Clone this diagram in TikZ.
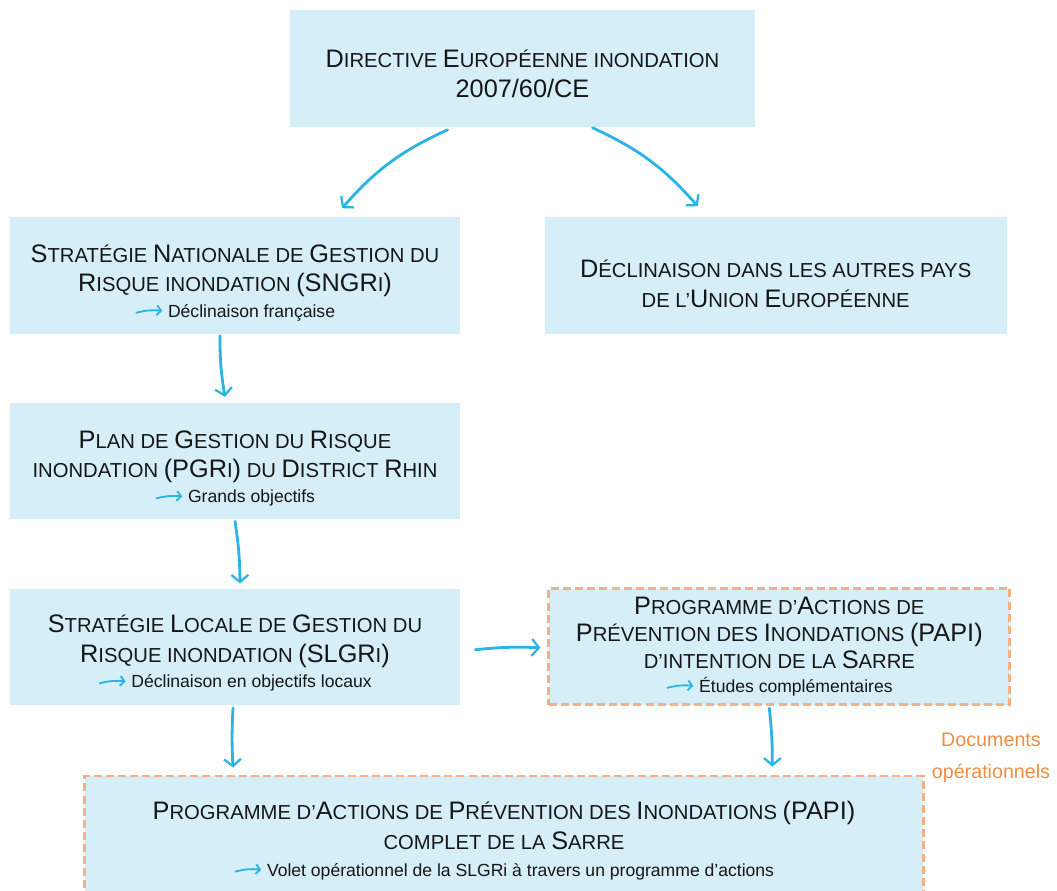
\documentclass[tikz,border=0pt]{standalone}
\usepackage{fontspec}
\setmainfont{Liberation Sans}
\usepackage{xcolor}
\usepackage{tikz}
\usetikzlibrary{arrows.meta,positioning,calc}
\definecolor{encre}{HTML}{161616}
\definecolor{bleuPale}{HTML}{D6EEF8}
\definecolor{bleuTrait}{HTML}{2BB3E6}
\definecolor{orangeTrait}{HTML}{F4B083}
\definecolor{orangeTexte}{HTML}{F28C3F}

% petites capitales simulées : les majuscules en plus grand
\newcommand\maj[1]{{\fontsize{18}{21}\selectfont #1}}
\newcommand\haut[1]{\rule{0pt}{#1}}
\newcommand\petitefleche{\tikz[x=1cm,y=1cm,baseline=-0.6ex]
  \draw[bleuTrait,line width=1.3pt,-{Straight Barb[length=3pt,width=7pt]}]
  (0,-0.03) to[bend left=10] (0.66,0.02);}
\newcommand\soustitre[1]{{\fontsize{12.5}{14}\selectfont\petitefleche\ #1}}

\begin{document}
\begin{tikzpicture}[x=0.025cm,y=0.025cm,
    boite/.style={fill=bleuPale,minimum height=2.9cm,inner sep=0pt,
                  align=center,font=\fontsize{14.4}{21}\selectfont\color{encre}},
    pointille/.style={draw=orangeTrait,line width=2pt,
                      dash pattern=on 5.7pt off 2.9pt},
    fleche/.style={draw=bleuTrait,line width=2pt,line cap=round,
                   -{Straight Barb[length=5pt,width=12pt,line width=1.6pt]}}]
  \useasboundingbox (0,0) rectangle (1057,-891);

  \node[boite,minimum width=11.625cm] (dir) at (522.5,-68.5)
    {\haut{20pt}\maj{D}IRECTIVE \maj{E}UROPÉENNE INONDATION\\ \maj{2007/60/CE}};
  \node[boite,minimum width=11.25cm] (sngri) at (235,-275.5)
    {\haut{23pt}\maj{S}TRATÉGIE \maj{N}ATIONALE DE \maj{G}ESTION DU\\
     \maj{R}ISQUE INONDATION \maj{(SNGR}I\maj{)}\\[-3pt]
     \soustitre{Déclinaison française}};
  \node[boite,minimum width=11.55cm,right=2.1cm of sngri] (autres)
    {\haut{24pt}\maj{D}ÉCLINAISON DANS LES AUTRES PAYS\\
     DE L’\maj{U}NION \maj{E}UROPÉENNE};
  \node[boite,minimum width=11.25cm,below=1.725cm of sngri] (pgri)
    {\haut{23pt}\maj{P}LAN DE \maj{G}ESTION DU \maj{R}ISQUE\\
     INONDATION \maj{(PGR}I\maj{)} DU \maj{D}ISTRICT \maj{R}HIN\\[-3pt]
     \soustitre{Grands objectifs}};
  \node[boite,minimum width=11.25cm,below=1.725cm of pgri] (slgri)
    {\haut{22pt}\maj{S}TRATÉGIE \maj{L}OCALE DE \maj{G}ESTION DU\\
     \maj{R}ISQUE INONDATION \maj{(SLGR}I\maj{)}\\[-3pt]
     \soustitre{Déclinaison en objectifs locaux}};
  \node[boite,pointille,minimum width=11.525cm,right=2.175cm of slgri,
        font=\fontsize{14.4}{19}\selectfont\color{encre}] (intention)
    {\maj{P}ROGRAMME D’\maj{A}CTIONS DE\\
     \maj{P}RÉVENTION DES \maj{I}NONDATIONS \maj{(PAPI)}\\
     D’INTENTION DE LA \maj{S}ARRE\\[-2pt]
     \soustitre{Études complémentaires}};
  \node[boite,pointille,minimum width=20.95cm,minimum height=2.95cm] (complet)
    at (504,-835)
    {\haut{21pt}\maj{P}ROGRAMME D’\maj{A}CTIONS DE \maj{P}RÉVENTION DES
     \maj{I}NONDATIONS \maj{(PAPI)}\\
     COMPLET DE LA \maj{S}ARRE\\[-2pt]
     \soustitre{Volet opérationnel de la SLGRi à travers un programme d’actions}};

  \node[font=\fontsize{14}{22.8}\selectfont\color{orangeTexte},align=center]
    (docs) at (991,-758) {Documents\\opérationnels};

  \draw[fleche] ($(dir.south)+(-75,-3)$) to[bend right=12]
    ($(sngri.north)+(107,9)$);
  \draw[fleche] ($(dir.south)+(70,-1)$) to[bend left=12]
    ($(autres.north)+(-78,11)$);
  \draw[fleche] ($(sngri.south)+(-15,-2)$) to[bend right=5]
    ($(pgri.north)+(-10,6)$);
  \draw[fleche] ($(pgri.south)+(0,-2)$) to[bend left=4]
    ($(slgri.north)+(5,5)$);
  \draw[fleche] ($(slgri.east)+(15,-3)$) to[bend left=4]
    ($(intention.west)+(-7,-1)$);
  \draw[fleche] ($(slgri.south)+(-2,-3)$) to[bend right=3]
    ($(slgri.south|-complet.north)+(-2,7)$);
  \draw[fleche] ($(intention.south)+(-10,-2)$) to[bend left=3]
    ($(intention.south|-complet.north)+(-7,8)$);
\end{tikzpicture}
\end{document}
